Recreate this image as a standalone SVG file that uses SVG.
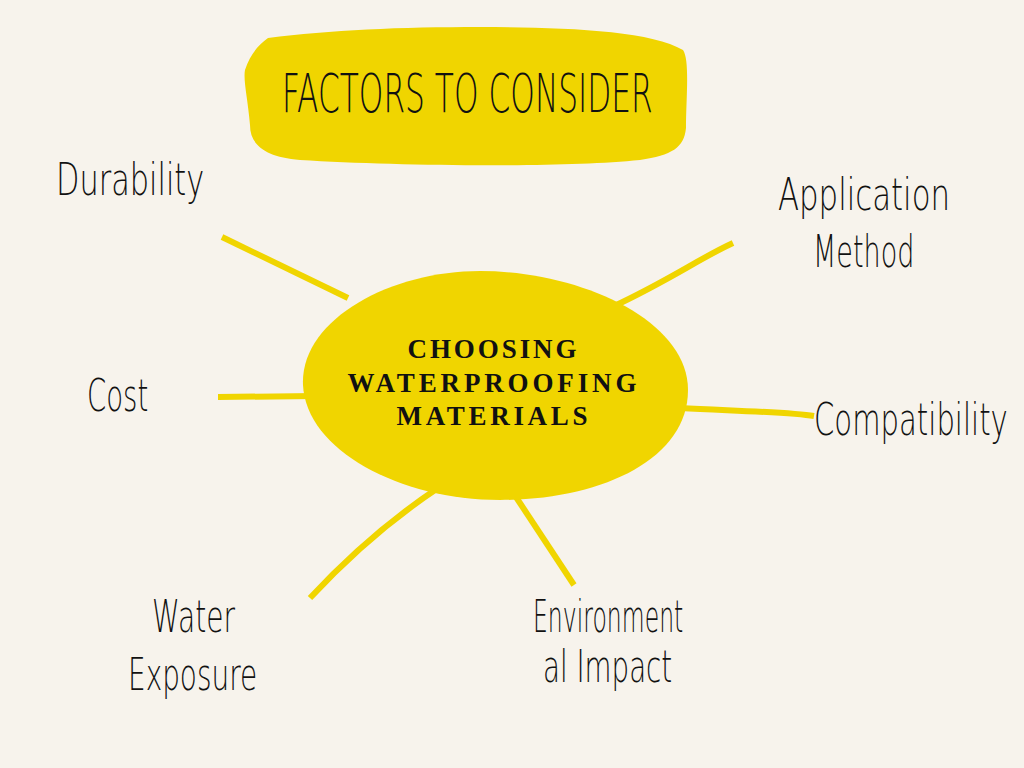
<svg xmlns="http://www.w3.org/2000/svg" width="1024" height="768" viewBox="0 0 1024 768">
  <style>
    .bg { fill: #F7F3EC; }
    .blob { fill: #F0D500; }
    .conn { fill: none; stroke: #F0D500; stroke-width: 6; stroke-linecap: butt; }
    .hand { font-family: "DejaVu Sans", "Noto Sans", sans-serif; font-weight: 200; fill: #111; }
    .lbl { font-size: 45px; }
    .title { font-size: 53px; }
    .center { font-family: "Liberation Serif", "DejaVu Serif", serif; font-weight: bold; font-size: 27px; fill: #111; }
  </style>
  <rect class="bg" x="0" y="0" width="1024" height="768"/>

  <g id="connectors">
    <path class="conn" d="M222,237 L348,298"/>
    <path class="conn" d="M218,397 L315,396"/>
    <path class="conn" d="M733,243 C700,258 670,280 612,307"/>
    <path class="conn" d="M680,408 C740,411 790,412 814,416"/>
    <path class="conn" d="M310,598 C350,555 390,520 438,488"/>
    <path class="conn" d="M574,585 L514,494"/>
  </g>

  <g id="title">
    <path class="blob" d="M268,38 C330,30 400,27 480,27 C560,27 650,30 683,50 C690,60 686,100 686,128 C684,148 672,155 640,160 C560,168 400,166 300,160 C265,157 250,145 250,125 C248,100 243,80 245,70 C250,55 258,45 268,38 Z"/>
    <text class="hand title" transform="translate(282,112) scale(0.6,1)" x="0" y="0" textLength="618" lengthAdjust="spacingAndGlyphs">FACTORS TO CONSIDER</text>
  </g>

  <g id="center">
    <path class="blob" d="M303,385 C300,320 390,271 480,271 C580,271 688,320 688,390 C688,460 600,500 500,500 C400,500 306,450 303,385 Z"/>
    <text class="center" x="492" y="358" text-anchor="middle" textLength="169" lengthAdjust="spacing">CHOOSING</text>
    <text class="center" x="492" y="392" text-anchor="middle" textLength="289" lengthAdjust="spacing">WATERPROOFING</text>
    <text class="center" x="492" y="425" text-anchor="middle" textLength="191" lengthAdjust="spacing">MATERIALS</text>
  </g>

  <g id="durability">
    <text class="hand lbl" transform="translate(56,195) scale(0.68,1)" x="0" y="0" textLength="218" lengthAdjust="spacingAndGlyphs">Durability</text>
  </g>
  <g id="application-method">
    <text class="hand lbl" transform="translate(778,210) scale(0.68,1)" x="0" y="0" textLength="253" lengthAdjust="spacingAndGlyphs">Application</text>
    <text class="hand lbl" transform="translate(813,267) scale(0.68,1)" x="0" y="0" textLength="149" lengthAdjust="spacingAndGlyphs">Method</text>
  </g>
  <g id="cost">
    <text class="hand lbl" transform="translate(87,411) scale(0.68,1)" x="0" y="0" textLength="90" lengthAdjust="spacingAndGlyphs">Cost</text>
  </g>
  <g id="compatibility">
    <text class="hand lbl" transform="translate(814,435) scale(0.68,1)" x="0" y="0" textLength="285" lengthAdjust="spacingAndGlyphs">Compatibility</text>
  </g>
  <g id="water-exposure">
    <text class="hand lbl" transform="translate(152,632) scale(0.68,1)" x="0" y="0" textLength="122" lengthAdjust="spacingAndGlyphs">Water</text>
    <text class="hand lbl" transform="translate(128,690) scale(0.68,1)" x="0" y="0" textLength="190" lengthAdjust="spacingAndGlyphs">Exposure</text>
  </g>
  <g id="environmental-impact">
    <text class="hand lbl" transform="translate(533,632) scale(0.68,1)" x="0" y="0" textLength="221" lengthAdjust="spacingAndGlyphs">Environment</text>
    <text class="hand lbl" transform="translate(543,682) scale(0.68,1)" x="0" y="0" textLength="190" lengthAdjust="spacingAndGlyphs">al Impact</text>
  </g>
</svg>
